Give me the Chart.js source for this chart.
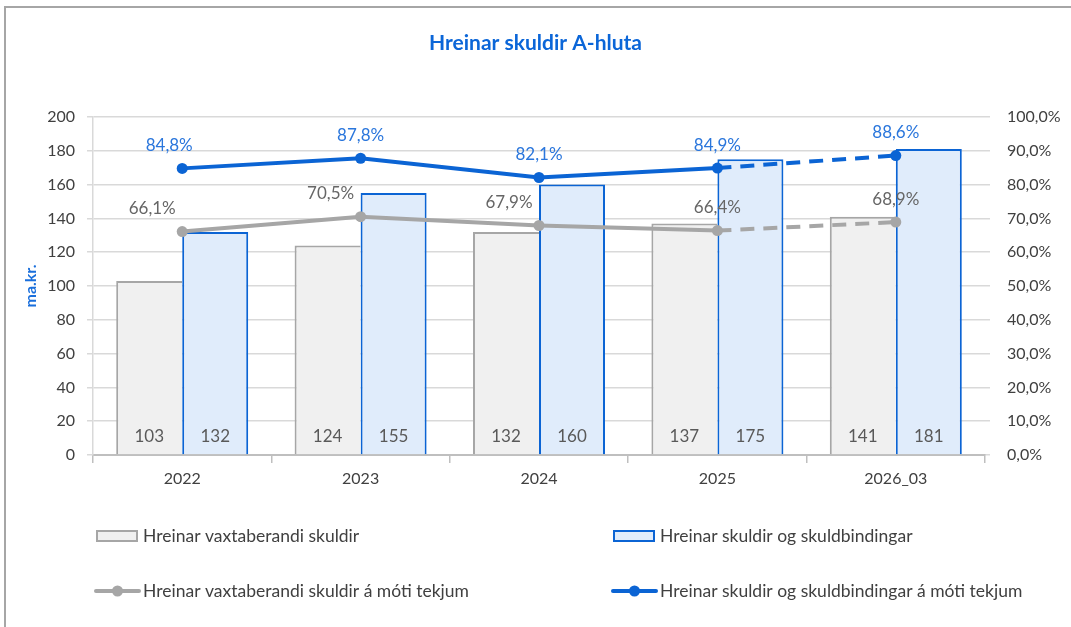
<!DOCTYPE html>
<html>
<head>
<meta charset="utf-8">
<script src="https://cdn.jsdelivr.net/npm/chart.js@4.4.0/dist/chart.umd.min.js"></script>
<style>
body{margin:0;background:#fff;}
#wrap{position:relative;width:1071px;height:627px;overflow:hidden;}
#frame{position:absolute;left:4px;top:6px;width:1100px;height:700px;border-top:2px solid #a6a6a6;border-left:2px solid #a6a6a6;}
#chart{position:absolute;left:0;top:0;}
</style>
</head>
<body>
<div id="wrap">
  <div id="frame"></div>
  <canvas id="chart" width="1071" height="627"></canvas>
</div>
<script>
"use strict"
//Gögn
const years = ["2022", "2023", "2024", "2025", "2026_03"];
const vaxtaberandi = [103, 124, 132, 137, 141];
const skuldbindingar = [132, 155, 160, 175, 181];
const vaxtaHlutfall = [66.1, 70.5, 67.9, 66.4, 68.9];
const skuldHlutfall = [84.8, 87.8, 82.1, 84.9, 88.6];
const leftTicks = [0, 20, 40, 60, 80, 100, 120, 140, 160, 180, 200];
const rightTicks = [0, 10, 20, 30, 40, 50, 60, 70, 80, 90, 100];

//Tilfærsla á merkjum (stíll, ekki gögn)
const vaxtaShift = [-30, -30, -30, 0, 0];
const skuldShift = [-13, 0, 0, 0, 0];
const legendCols = [96, 613];
const legendRows = [536, 591];

const FONT = "Lato, 'DejaVu Sans', sans-serif";
const BLUE = "#0b64d4";
const GREY = "#a6a6a6";

function pct(v) {
    return v.toFixed(1).replace(".", ",") + "%";
}

//Merki á súlum og línum
const valueLabels = {
    id: "valueLabels",
    afterDatasetsDraw(chart) {
        const ctx = chart.ctx;
        ctx.save();
        ctx.font = "17px " + FONT;
        ctx.textAlign = "center";
        ctx.textBaseline = "middle";
        chart.data.datasets.forEach((ds, i) => {
            const meta = chart.getDatasetMeta(i);
            meta.data.forEach((el, j) => {
                if (ds.type === "bar") {
                    ctx.fillStyle = "#595959";
                    ctx.fillText(ds.data[j], el.x, chart.chartArea.bottom - 18);
                } else {
                    ctx.fillStyle = ds.labelColor;
                    ctx.fillText(pct(ds.data[j]), el.x + ds.labelShift[j], el.y - 23);
                }
            });
        });
        ctx.restore();
    }
};

//Skýringar neðst, 2x2
const bottomLegend = {
    id: "bottomLegend",
    afterDraw(chart) {
        const ctx = chart.ctx;
        ctx.save();
        ctx.font = "17.5px " + FONT;
        ctx.textAlign = "left";
        ctx.textBaseline = "middle";
        chart.data.datasets.forEach((ds, i) => {
            const x = legendCols[i % 2];
            const y = legendRows[Math.floor(i / 2)];
            if (ds.type === "bar") {
                ctx.fillStyle = ds.backgroundColor;
                ctx.strokeStyle = ds.borderColor;
                ctx.lineWidth = 2;
                ctx.fillRect(x + 1, y - 5, 40, 10);
                ctx.strokeRect(x + 1, y - 5, 40, 10);
            } else {
                ctx.strokeStyle = ds.borderColor;
                ctx.lineWidth = 4;
                ctx.lineCap = "round";
                ctx.beginPath();
                ctx.moveTo(x, y);
                ctx.lineTo(x + 43, y);
                ctx.stroke();
                ctx.fillStyle = ds.borderColor;
                ctx.beginPath();
                ctx.arc(x + 21.5, y, 5.5, 0, Math.PI * 2);
                ctx.fill();
            }
            ctx.fillStyle = "#404040";
            ctx.fillText(ds.label, x + 47, y);
        });
        ctx.restore();
    }
};

const dashLast = ctx => ctx.p0DataIndex === years.length - 2 ? [14, 9] : undefined;

new Chart(document.getElementById("chart"), {
    type: "bar",
    data: {
        labels: years,
        datasets: [
            {
                type: "bar",
                label: "Hreinar vaxtaberandi skuldir",
                data: vaxtaberandi,
                backgroundColor: "#f0f0f0",
                borderColor: GREY,
                borderWidth: { top: 2, left: 2, right: 0, bottom: 0 },
                borderSkipped: false,
                categoryPercentage: 0.74,
                barPercentage: 1.0,
                yAxisID: "y",
                order: 2
            },
            {
                type: "bar",
                label: "Hreinar skuldir og skuldbindingar",
                data: skuldbindingar,
                backgroundColor: "#e0ecfb",
                borderColor: BLUE,
                borderWidth: 2,
                borderSkipped: "start",
                categoryPercentage: 0.74,
                barPercentage: 1.0,
                yAxisID: "y",
                order: 2
            },
            {
                type: "line",
                label: "Hreinar vaxtaberandi skuldir á móti tekjum",
                data: vaxtaHlutfall,
                borderColor: GREY,
                backgroundColor: GREY,
                pointBackgroundColor: GREY,
                borderWidth: 4,
                pointRadius: 5.5,
                pointBorderWidth: 0,
                labelColor: "#666666",
                labelShift: vaxtaShift,
                segment: { borderDash: dashLast },
                yAxisID: "y1",
                order: 1
            },
            {
                type: "line",
                label: "Hreinar skuldir og skuldbindingar á móti tekjum",
                data: skuldHlutfall,
                borderColor: BLUE,
                backgroundColor: BLUE,
                pointBackgroundColor: BLUE,
                borderWidth: 4,
                pointRadius: 5.5,
                pointBorderWidth: 0,
                labelColor: "#2a76dc",
                labelShift: skuldShift,
                segment: { borderDash: dashLast },
                yAxisID: "y1",
                order: 1
            }
        ]
    },
    options: {
        responsive: false,
        animation: false,
        layout: { padding: { top: 0, left: 0, right: 0, bottom: 127 } },
        plugins: {
            legend: { display: false },
            tooltip: { enabled: false },
            title: {
                display: true,
                text: "Hreinar skuldir A-hluta",
                color: "#0b66d8",
                font: { family: FONT, size: 21, weight: "bold" },
                padding: { top: 31, bottom: 60.8 }
            }
        },
        scales: {
            x: {
                afterFit: s => { s.height = 45; },
                grid: { display: true, drawOnChartArea: false, offset: true, tickLength: 8, color: "#bfbfbf", lineWidth: 1.5 },
                border: { color: "#bfbfbf", width: 2 },
                ticks: { color: "#404040", font: { family: FONT, size: 16 }, padding: 6 }
            },
            y: {
                position: "left",
                min: 0,
                max: 200,
                afterBuildTicks: s => { s.ticks = leftTicks.map(v => ({ value: v })); },
                afterFit: s => { s.width = 93; },
                grid: { color: "#d9d9d9", lineWidth: 1.5, tickLength: 6 },
                border: { color: "#d9d9d9", width: 1.5 },
                ticks: { color: "#404040", font: { family: FONT, size: 16 }, padding: 12 },
                title: {
                    display: true,
                    text: "ma.kr.",
                    color: "#1a6fdc",
                    font: { family: FONT, size: 16, weight: "bold" },
                    padding: { top: 21, bottom: 0 }
                }
            },
            y1: {
                position: "right",
                min: 0,
                max: 100,
                afterBuildTicks: s => { s.ticks = rightTicks.map(v => ({ value: v })); },
                afterFit: s => { s.width = 86; },
                grid: { drawOnChartArea: false, color: "#d9d9d9", lineWidth: 1.5, tickLength: 5 },
                border: { display: false },
                ticks: {
                    color: "#404040",
                    font: { family: FONT, size: 16 },
                    padding: 17,
                    callback: v => pct(v)
                }
            }
        }
    },
    plugins: [valueLabels, bottomLegend]
});
</script>
</body>
</html>
